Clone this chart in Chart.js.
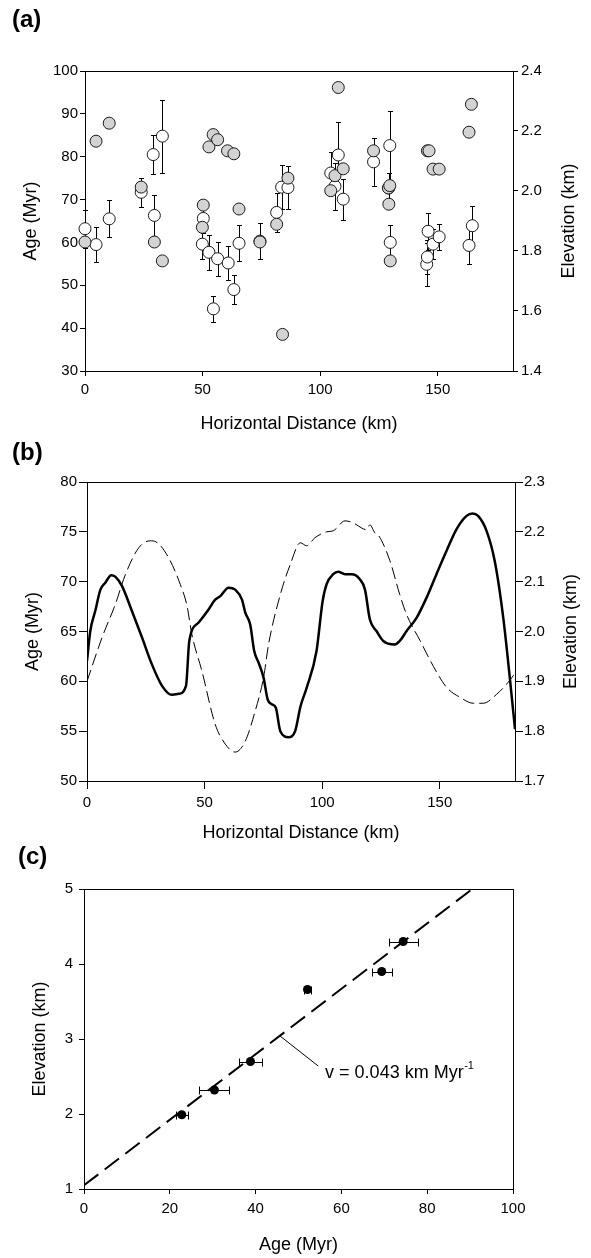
<!DOCTYPE html>
<html>
<head>
<meta charset="utf-8">
<script src="https://cdn.jsdelivr.net/npm/chart.js@4.4.1/dist/chart.umd.min.js"></script>
<style>
    body { margin: 0; width: 591px; height: 1258px; background: #fff; position: relative; overflow: hidden; font-family: "Liberation Sans", Arial, sans-serif; }
    canvas { position: absolute; left: 0; }
    .tag { position: absolute; font-weight: bold; font-size: 24px; line-height: 24px; color: #000; z-index: 2; }
</style>
</head>
<body>
<canvas id="graph-a" width="591" height="440" style="top:0px"></canvas>
<canvas id="graph-b" width="591" height="410" style="top:440px"></canvas>
<canvas id="graph-c" width="591" height="408" style="top:850px"></canvas>
<div class="tag" style="left:12px;top:7px">(a)</div>
<div class="tag" style="left:12px;top:440px">(b)</div>
<div class="tag" style="left:18px;top:844px">(c)</div>
<script>
// ---- Panel (a): sample ages (open circles, left axis) and elevations (grey circles, right axis)
const ageDistA = [0.0, 4.7, 10.3, 23.9, 29.0, 29.5, 32.9, 49.9, 50.3, 52.7, 54.6, 56.4, 60.9, 63.3, 65.5, 74.4, 81.5, 83.6, 86.3,
    104.5, 106.3, 107.7, 109.8, 122.7, 129.2, 129.6, 129.8, 145.3, 145.6, 145.9, 148.0, 150.6, 163.3, 164.7];
const ageA = [63.2, 59.5, 65.5, 71.7, 80.5, 66.3, 84.8, 59.6, 65.6, 57.7, 44.5, 56.2, 55.2, 49.0, 59.8, 60.3, 67.0, 72.9, 72.8,
    76.2, 73.1, 80.4, 70.1, 78.8, 72.7, 82.6, 60.0, 54.9, 56.6, 62.6, 59.6, 61.3, 59.3, 63.9];
const ageErrA = [4.4, 4.1, 4.3, 3.4, 4.6, 4.7, 8.5, 3.5, 3.5, 4.1, 3.0, 4.0, 4.0, 3.4, 4.2, 4.2, 4.5, 5.2, 5.1,
    4.9, 5.5, 7.7, 4.8, 5.6, 3.5, 8.0, 4.0, 5.0, 4.0, 4.3, 3.5, 3.0, 4.4, 4.5];
const elevDistA = [0.0, 4.7, 10.3, 23.9, 29.5, 32.9, 49.9, 50.3, 52.7, 54.5, 56.4, 60.6, 63.3, 65.5, 74.4, 81.5, 84.0, 86.3,
    104.5, 106.3, 107.7, 109.8, 122.7, 129.0, 129.2, 129.6, 129.8, 145.6, 146.3, 148.0, 150.6, 163.3, 164.3];
const elevA = [1.830, 2.166, 2.226, 2.013, 1.830, 1.767, 1.879, 1.953, 2.147, 2.188, 2.171, 2.134, 2.124, 1.940, 1.830, 1.889, 1.522, 2.043,
    2.001, 2.051, 2.345, 2.074, 2.134, 2.010, 1.956, 2.018, 1.767, 2.134, 2.134, 2.073, 2.073, 2.196, 2.289];
const distTicks = [0, 50, 100, 150];
const ageTicksA = [30, 40, 50, 60, 70, 80, 90, 100];
const elevTicksA = [1.4, 1.6, 1.8, 2.0, 2.2, 2.4];

// ---- Panel (b): smoothed age (dashed, left axis) and elevation (solid, right axis) profiles
const ageDistB = [0, 6.4, 12.0, 16.3, 22.0, 26.9, 29.3, 34.7, 39.7, 42.5, 44.6, 48.9, 54.5, 58.8, 63.0, 67.3, 71.5, 75.1, 77.2, 82.2,
    86.4, 90.7, 93.4, 96.9, 101.9, 104.7, 109.7, 113.2, 116.7, 118.8, 120.3, 122.4, 123.8, 128.8, 133.0, 135.9, 141.6, 147.3,
    152.9, 158.6, 164.3, 168.5, 174.2, 179.1, 182];
const ageB = [60.0, 64.4, 67.7, 70.7, 73.4, 74.1, 74.0, 72.4, 69.7, 67.6, 64.7, 61.0, 55.7, 53.7, 52.9, 54.0, 57.0, 60.4, 63.7, 68.7,
    71.7, 73.9, 73.6, 74.4, 75.0, 75.1, 76.1, 75.9, 75.4, 75.2, 75.7, 74.9, 74.7, 72.1, 68.7, 66.7, 64.1, 61.5,
    59.4, 58.4, 57.8, 57.8, 58.7, 59.9, 60.8];
const elevDistB = [0, 1.4, 3.5, 5.7, 7.8, 10.3, 12.0, 14.9, 19.1, 23.4, 27.6, 31.9, 36.1, 39.0, 42.1, 43.5, 47.5, 51.7, 54.5, 56.7,
    60.2, 63.0, 65.9, 67.3, 69.4, 71.1, 73.0, 75.1, 76.8, 78.6, 80.3, 82.2, 85.7, 88.5, 90.8, 93.4, 97.6, 100.2, 101.9, 104.7,
    106.8, 109.7, 112.5, 116.0, 118.2, 120.3, 123.1, 126.0, 130.9, 133.0, 135.9, 140.2, 144.4, 148.6, 152.9, 157.1, 161.4,
    163.9, 166.3, 169.9, 173.4, 177.0, 179.8, 182];
const elevB = [1.941, 2.001, 2.041, 2.084, 2.098, 2.113, 2.110, 2.091, 2.041, 1.988, 1.934, 1.891, 1.873, 1.875, 1.891, 1.981, 2.018, 2.044, 2.064, 2.071,
    2.088, 2.084, 2.064, 2.038, 2.014, 1.961, 1.937, 1.907, 1.864, 1.854, 1.847, 1.800, 1.788, 1.800, 1.850, 1.887, 1.961, 2.061, 2.095, 2.115,
    2.120, 2.115, 2.115, 2.105, 2.084, 2.024, 2.001, 1.981, 1.974, 1.981, 2.001, 2.028, 2.068, 2.115, 2.162, 2.205, 2.232,
    2.237, 2.232, 2.202, 2.141, 2.028, 1.907, 1.804];
const ageTicksB = [50, 55, 60, 65, 70, 75, 80];
const elevTicksB = [1.7, 1.8, 1.9, 2.0, 2.1, 2.2, 2.3];

// ---- Panel (c): elevation against age with the fitted exhumation rate
const ageC = [22.8, 30.4, 38.8, 52.1, 69.4, 74.4];
const elevC = [1.99, 2.32, 2.70, 3.66, 3.90, 4.30];
const ageErrC = [1.45, 3.5, 2.7, 0.9, 2.35, 3.4];
const fitAgeC = [0, 90.5];
const fitElevC = [1.05, 5.0];
const ageTicksC = [0, 20, 40, 60, 80, 100];
const elevTicksC = [1, 2, 3, 4, 5];
const rateText = 'v = 0.043 km Myr';
const rateSup = '-1';
const rateLineFrom = [45.7, 3.04];
const rateLineTo = [54.6, 2.64];
const rateTextAt = [56.2, 2.55];

const FONT = '"Liberation Sans", Arial, sans-serif';

function pairs(xs, ys) {
    return xs.map((x, i) => ({x: x, y: ys[i]}));
}

// One linear axis with outward ticks, no grid on the chart area
function axis(pos, min, max, ticks, o) {
    return {
        type: 'linear',
        position: pos,
        min: min,
        max: max,
        afterBuildTicks: s => { s.ticks = ticks.map(v => ({value: v})); },
        afterFit: s => {
            if (s.isHorizontal()) s.height = o.size; else s.width = o.size;
        },
        grid: { drawOnChartArea: false, drawTicks: true, tickLength: o.tick, tickColor: '#000', tickWidth: 1 },
        border: { display: false },
        ticks: {
            color: '#000',
            padding: o.pad,
            autoSkip: false,
            maxRotation: 0,
            font: { family: FONT, size: 15 },
            callback: o.fmt || (v => String(v))
        }
    };
}

// Box around the plotting area
const frame = {
    id: 'frame',
    beforeDatasetsDraw(chart) {
        const {ctx, chartArea: a} = chart;
        ctx.save();
        ctx.strokeStyle = '#000';
        ctx.lineWidth = 1;
        ctx.strokeRect(Math.round(a.left) + 0.5, Math.round(a.top) + 0.5,
            Math.round(a.right - a.left), Math.round(a.bottom - a.top));
        ctx.restore();
    }
};

// Error bars read from dataset.errors, vertical or horizontal
const errorBars = {
    id: 'errorBars',
    beforeDatasetsDraw(chart) {
        const ctx = chart.ctx;
        chart.data.datasets.forEach(ds => {
            if (!ds.errors) return;
            const xs = chart.scales[ds.xAxisID || 'x'];
            const ys = chart.scales[ds.yAxisID || 'y'];
            const cap = ds.capSize;
            ctx.save();
            ctx.strokeStyle = '#000';
            ctx.lineWidth = 1;
            ds.data.forEach((p, j) => {
                const e = ds.errors[j];
                ctx.beginPath();
                if (ds.errorDir === 'x') {
                    const y = Math.round(ys.getPixelForValue(p.y)) + 0.5;
                    const x0 = Math.round(xs.getPixelForValue(p.x - e)) + 0.5;
                    const x1 = Math.round(xs.getPixelForValue(p.x + e)) + 0.5;
                    ctx.moveTo(x0, y); ctx.lineTo(x1, y);
                    ctx.moveTo(x0, y - cap); ctx.lineTo(x0, y + cap);
                    ctx.moveTo(x1, y - cap); ctx.lineTo(x1, y + cap);
                } else {
                    const x = Math.round(xs.getPixelForValue(p.x)) + 0.5;
                    const y0 = Math.round(ys.getPixelForValue(p.y - e)) + 0.5;
                    const y1 = Math.round(ys.getPixelForValue(p.y + e)) + 0.5;
                    ctx.moveTo(x, y0); ctx.lineTo(x, y1);
                    ctx.moveTo(x - cap, y0); ctx.lineTo(x + cap, y0);
                    ctx.moveTo(x - cap, y1); ctx.lineTo(x + cap, y1);
                }
                ctx.stroke();
            });
            ctx.restore();
        });
    }
};

// Axis titles (the right one reads bottom to top, like the left one)
function axisTitles(t) {
    return {
        id: 'axisTitles',
        afterDraw(chart) {
            const {ctx, chartArea: a} = chart;
            const midY = (a.top + a.bottom) / 2;
            ctx.save();
            ctx.fillStyle = '#000';
            ctx.font = '18px ' + FONT;
            ctx.textAlign = 'center';
            ctx.textBaseline = 'middle';
            [['left', t.leftX], ['right', t.rightX]].forEach(([k, x]) => {
                if (!t[k]) return;
                ctx.save();
                ctx.translate(x, midY);
                ctx.rotate(-Math.PI / 2);
                ctx.fillText(t[k], 0, 0);
                ctx.restore();
            });
            if (t.bottom) ctx.fillText(t.bottom, (a.left + a.right) / 2, t.bottomY);
            ctx.restore();
        }
    };
}

// Leader line and rate label in panel (c)
const rateNote = {
    id: 'rateNote',
    afterDatasetsDraw(chart) {
        const {ctx, scales: {x, y}} = chart;
        ctx.save();
        ctx.strokeStyle = '#000';
        ctx.lineWidth = 1;
        ctx.beginPath();
        ctx.moveTo(x.getPixelForValue(rateLineFrom[0]), y.getPixelForValue(rateLineFrom[1]));
        ctx.lineTo(x.getPixelForValue(rateLineTo[0]), y.getPixelForValue(rateLineTo[1]));
        ctx.stroke();
        const tx = x.getPixelForValue(rateTextAt[0]);
        const ty = y.getPixelForValue(rateTextAt[1]);
        ctx.fillStyle = '#000';
        ctx.textBaseline = 'middle';
        ctx.font = '18px ' + FONT;
        ctx.fillText(rateText, tx, ty);
        const w = ctx.measureText(rateText).width;
        ctx.font = '11px ' + FONT;
        ctx.fillText(rateSup, tx + w + 0.5, ty - 7);
        ctx.restore();
    }
};

const common = {
    responsive: false,
    animation: false,
    events: [],
    plugins: { legend: { display: false }, tooltip: { enabled: false } }
};

// Panel (a)
new Chart(document.getElementById('graph-a'), {
    type: 'scatter',
    data: {
        datasets: [{
            // grey circles drawn on top
            data: pairs(elevDistA, elevA),
            yAxisID: 'y2',
            pointRadius: 6,
            pointBackgroundColor: '#d3d3d3',
            pointBorderColor: '#1a1a1a',
            pointBorderWidth: 1,
            clip: false
        }, {
            data: pairs(ageDistA, ageA),
            yAxisID: 'y',
            errors: ageErrA,
            errorDir: 'y',
            capSize: 2.5,
            pointRadius: 6,
            pointBackgroundColor: '#ffffff',
            pointBorderColor: '#1a1a1a',
            pointBorderWidth: 1,
            clip: false
        }]
    },
    options: Object.assign({}, common, {
        layout: { padding: { top: 71, bottom: 0, left: 0, right: 0 } },
        scales: {
            x: axis('bottom', 0, 182, distTicks, { size: 69, tick: 5, pad: 5 }),
            y: axis('left', 30, 100, ageTicksA, { size: 85, tick: 5, pad: 2 }),
            y2: axis('right', 1.4, 2.4, elevTicksA, { size: 78, tick: 5, pad: 3, fmt: v => v.toFixed(1) })
        }
    }),
    plugins: [frame, errorBars, axisTitles({
        left: 'Age (Myr)', leftX: 31,
        right: 'Elevation (km)', rightX: 569,
        bottom: 'Horizontal Distance (km)', bottomY: 424
    })]
});

// Panel (b)
new Chart(document.getElementById('graph-b'), {
    type: 'line',
    data: {
        datasets: [{
            data: pairs(elevDistB, elevB),
            yAxisID: 'y2',
            borderColor: '#000',
            borderWidth: 2.5,
            pointRadius: 0,
            fill: false,
            cubicInterpolationMode: 'monotone'
        }, {
            data: pairs(ageDistB, ageB),
            yAxisID: 'y',
            borderColor: '#000',
            borderWidth: 1,
            borderDash: [12, 5],
            pointRadius: 0,
            fill: false,
            cubicInterpolationMode: 'monotone'
        }]
    },
    options: Object.assign({}, common, {
        layout: { padding: { top: 42, bottom: 0, left: 0, right: 0 } },
        scales: {
            x: axis('bottom', 0, 182, distTicks, { size: 69, tick: 8, pad: 5 }),
            y: axis('left', 50, 80, ageTicksB, { size: 87, tick: 8, pad: 2 }),
            y2: axis('right', 1.7, 2.3, elevTicksB, { size: 76, tick: 8, pad: 1, fmt: v => v.toFixed(1) })
        }
    }),
    plugins: [frame, axisTitles({
        left: 'Age (Myr)', leftX: 33.5,
        right: 'Elevation (km)', rightX: 571.5,
        bottom: 'Horizontal Distance (km)', bottomY: 393
    })]
});

// Panel (c)
new Chart(document.getElementById('graph-c'), {
    type: 'scatter',
    data: {
        datasets: [{
            data: pairs(ageC, elevC),
            errors: ageErrC,
            errorDir: 'x',
            capSize: 4,
            pointRadius: 4.5,
            pointBackgroundColor: '#000',
            pointBorderColor: '#000',
            pointBorderWidth: 0,
            clip: false
        }, {
            type: 'line',
            data: pairs(fitAgeC, fitElevC),
            borderColor: '#000',
            borderWidth: 2,
            borderDash: [18, 8],
            pointRadius: 0,
            fill: false
        }]
    },
    options: Object.assign({}, common, {
        layout: { padding: { top: 39, bottom: 0, left: 0, right: 78 } },
        scales: {
            x: axis('bottom', 0, 100, ageTicksC, { size: 69, tick: 5, pad: 6 }),
            y: axis('left', 1, 5, elevTicksC, { size: 84, tick: 5, pad: 6 })
        }
    }),
    plugins: [frame, errorBars, rateNote, axisTitles({
        left: 'Elevation (km)', leftX: 40,
        bottom: 'Age (Myr)', bottomY: 395
    })]
});
</script>
</body>
</html>
